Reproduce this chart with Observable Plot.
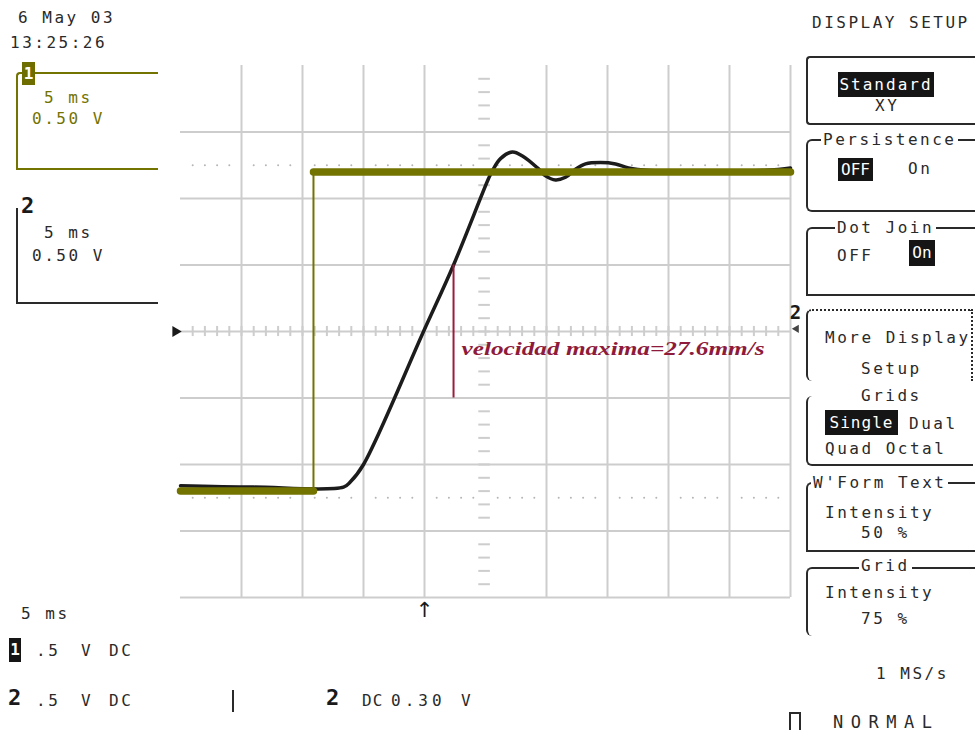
<!DOCTYPE html>
<html>
<head>
<meta charset="utf-8">
<script src="https://cdn.jsdelivr.net/npm/d3@7"></script>
<script src="https://cdn.jsdelivr.net/npm/@observablehq/plot@0.6"></script>
<style>
  body { margin: 0; background: #ffffff; }
  #scope { position: relative; width: 975px; height: 734px; overflow: hidden;
           font-family: "DejaVu Sans Mono", monospace; color: #2a2a2a; background: #fff; }
  #chart { position: absolute; left: 0; top: 0; }
  .t { position: absolute; font-size: 16px; letter-spacing: 2.5px; white-space: pre; line-height: 1; }
  .ol { color: #737300; }
  .b2 { position: absolute; font-size: 22px; font-weight: bold; line-height: 1; color: #1a1a1a; }
  .hl { position: absolute; background: #151515; color: #fff; font-size: 16px; letter-spacing: 2px;
        text-align: center; white-space: pre; }
  .box { position: absolute; box-sizing: border-box; border-color: #2a2a2a; border-style: solid; border-width: 0; }
  .ttl { background: #fff; padding: 0 2px; }
</style>
</head>
<body>
<div id="scope">
  <div id="chart"></div>

  <!-- left info -->
  <div class="t" style="left:18px;top:10px">6 May 03</div>
  <div class="t" style="left:10px;top:35px">13:25:26</div>

  <div class="box" style="left:16px;top:72px;width:142px;height:98px;border-top-width:2px;border-left-width:2px;border-bottom-width:2px;border-color:#737300;border-top-left-radius:4px;"></div>
  <div class="hl" style="left:22px;top:62px;width:13px;height:23px;line-height:23px;background:#6e6e00;font-weight:bold;letter-spacing:0">1</div>
  <div class="t ol" style="left:44px;top:90px">5 ms</div>
  <div class="t ol" style="left:32px;top:111px">0.50 V</div>

  <div class="box" style="left:16px;top:208px;width:142px;height:96px;border-left-width:2px;border-bottom-width:2px;"></div>
  <div class="b2" style="left:21px;top:195px">2</div>
  <div class="t" style="left:44px;top:225px">5 ms</div>
  <div class="t" style="left:32px;top:248px">0.50 V</div>

  <!-- bottom info -->
  <div class="t" style="left:21px;top:606px">5 ms</div>
  <div class="hl" style="left:9px;top:638px;width:12px;height:24px;line-height:24px;font-weight:bold;letter-spacing:0">1</div>
  <div class="t" style="left:36px;top:643px">.5</div>
  <div class="t" style="left:81px;top:643px">V</div>
  <div class="t" style="left:109px;top:643px">DC</div>
  <div class="b2" style="left:8px;top:687px">2</div>
  <div class="t" style="left:36px;top:693px">.5</div>
  <div class="t" style="left:81px;top:693px">V</div>
  <div class="t" style="left:109px;top:693px">DC</div>
  <div class="box" style="left:232px;top:690px;width:2px;height:22px;background:#2a2a2a"></div>
  <div class="b2" style="left:326px;top:687px">2</div>
  <div class="t" style="left:362px;top:693px;letter-spacing:1px">DC</div>
  <div class="t" style="left:391px;top:693px;letter-spacing:4px">0.30</div>
  <div class="t" style="left:461px;top:693px">V</div>

  <!-- right menu -->
  <div class="t" style="left:812px;top:15px">DISPLAY SETUP</div>

  <div class="box" style="left:806px;top:56px;width:175px;height:69px;border-top-width:2px;border-left-width:2px;border-bottom-width:2px;border-top-left-radius:4px;border-bottom-left-radius:4px;"></div>
  <div class="hl" style="left:838px;top:72px;width:96px;height:25px;line-height:25px">Standard</div>
  <div class="t" style="left:875px;top:98px">XY</div>

  <div class="box" style="left:806px;top:139px;width:175px;height:73px;border-top-width:2px;border-left-width:2px;border-bottom-width:2px;border-top-left-radius:6px;border-bottom-left-radius:6px;"></div>
  <div class="t ttl" style="left:821px;top:132px">Persistence</div>
  <div class="hl" style="left:838px;top:158px;width:35px;height:23px;line-height:23px;letter-spacing:0">OFF</div>
  <div class="t" style="left:908px;top:161px">On</div>

  <div class="box" style="left:806px;top:227px;width:175px;height:69px;border-top-width:2px;border-left-width:2px;border-bottom-width:2px;border-top-left-radius:6px;"></div>
  <div class="t ttl" style="left:835px;top:220px">Dot Join</div>
  <div class="t" style="left:837px;top:248px">OFF</div>
  <div class="hl" style="left:909px;top:240px;width:26px;height:26px;line-height:26px;letter-spacing:0">On</div>

  <div class="box" style="left:806px;top:309px;width:167px;height:72px;border-top:2px dotted #2a2a2a;border-left-width:2px;border-right:2px dotted #2a2a2a;border-bottom-left-radius:6px;border-top-left-radius:6px;"></div>
  <div class="t" style="left:825px;top:330px">More Display</div>
  <div class="t" style="left:861px;top:361px">Setup</div>

  <div class="box" style="left:806px;top:396px;width:167px;height:70px;border-left-width:2px;border-bottom-width:2px;border-top-left-radius:6px;border-bottom-left-radius:6px;"></div>
  <div class="t" style="left:861px;top:388px">Grids</div>
  <div class="hl" style="left:825px;top:410px;width:73px;height:25px;line-height:25px;letter-spacing:1px">Single</div>
  <div class="t" style="left:909px;top:416px">Dual</div>
  <div class="t" style="left:825px;top:441px">Quad Octal</div>

  <div class="box" style="left:806px;top:482px;width:175px;height:70px;border-top-width:2px;border-left-width:2px;border-bottom-width:2px;border-top-left-radius:6px;"></div>
  <div class="t ttl" style="left:811px;top:475px">W'Form Text</div>
  <div class="t" style="left:825px;top:505px">Intensity</div>
  <div class="t" style="left:861px;top:525px">50 %</div>

  <div class="box" style="left:806px;top:567px;width:175px;height:69px;border-top-width:2px;border-left-width:2px;border-top-left-radius:6px;border-bottom-left-radius:6px;"></div>
  <div class="t ttl" style="left:859px;top:558px">Grid</div>
  <div class="t" style="left:825px;top:585px">Intensity</div>
  <div class="t" style="left:861px;top:611px">75 %</div>

  <div class="t" style="left:876px;top:666px">1 MS/s</div>
  <div class="box" style="left:789px;top:712px;width:12px;height:18px;border-top-width:2px;border-left-width:2px;border-right-width:2px;"></div>
  <div class="t" style="left:833px;top:714px;font-size:17px;letter-spacing:7.5px">NORMAL</div>
</div>

<script>
// ---- data (time in ms from left of screen, voltage in V about the centre line) ----
const ch1Time  = [0, 10.9, 10.9, 50];
const ch1Volts = [-1.2, -1.2, 1.2, 1.2];

const ch2Time  = [0, 6, 13.36, 13.93, 15.0, 19.92, 22.38, 25.25, 25.57, 26.23, 27.21, 28.03,
                  29.26, 29.92, 30.74, 31.56, 32.38, 33.2, 34.43, 35.66, 36.72, 38.52, 42.62, 47.54, 50];
const ch2Volts = [-1.16, -1.17, -1.17, -1.13, -1.0, 0.0, 0.5, 1.15, 1.21, 1.30, 1.35, 1.32,
                  1.23, 1.17, 1.14, 1.16, 1.22, 1.26, 1.27, 1.26, 1.23, 1.21, 1.20, 1.21, 1.23];

const annotationTime = 22.38;
const annotationVolts = [-0.5, 0.5];
const annotationLabel = "velocidad maxima=27.6mm/s";
const triggerTime = 20;

const majorTimes = [5, 10, 15, 20, 30, 35, 40, 45];
const borderTime = 50;
const majorVolts = [-1.5, -1, -0.5, 0, 0.5, 1, 1.5];
const bottomVolt = -2;
const minorTimes = d3.range(1, 50);
const minorVolts = d3.range(-19, 20).map(k => k / 10);
const dottedVolts = [-1.25, 1.25];

const ch1 = ch1Time.map((t, i) => ({t, v: ch1Volts[i]}));
const ch2 = ch2Time.map((t, i) => ({t, v: ch2Volts[i]}));
const dottedPts = dottedVolts.flatMap(v => minorTimes.filter(t => t % 5 !== 0).map(t => ({t, v})));

const grid = "#cdcdcd";
const olive = "#737300";

const chart = Plot.plot({
  width: 975,
  height: 734,
  marginLeft: 180,
  marginRight: 185,
  marginTop: 65,
  marginBottom: 137,
  x: {domain: [0, 50], axis: null},
  y: {domain: [-2, 2], axis: null},
  style: {background: "transparent", overflow: "visible"},
  marks: [
    Plot.ruleX(majorTimes, {y1: -2, y2: 2, stroke: grid, strokeWidth: 2}),
    Plot.ruleX([borderTime], {y1: -2, y2: 2, stroke: grid, strokeWidth: 2}),
    Plot.ruleY(majorVolts, {x1: 0, x2: 50, stroke: grid, strokeWidth: 2}),
    Plot.ruleY([bottomVolt], {x1: 0, x2: 50, stroke: grid, strokeWidth: 2}),
    Plot.ruleX(minorTimes, {y1: -0.038, y2: 0.038, stroke: grid, strokeWidth: 2}),
    Plot.ruleY(minorVolts, {x1: 24.45, x2: 25.4, stroke: grid, strokeWidth: 2}),
    Plot.dot(dottedPts, {x: "t", y: "v", r: 1, fill: "#b5b5b5", stroke: null}),
    // channel 2 (black)
    Plot.line(ch2, {x: "t", y: "v", stroke: "#1c1c1c", strokeWidth: 3.5, curve: "catmull-rom"}),
    // channel 1 (olive)
    Plot.line(ch1, {x: "t", y: "v", stroke: olive, strokeWidth: 2}),
    Plot.line(ch1, {x: "t", y: "v", z: d => d.v > 0 ? "high" : "low", stroke: olive, strokeWidth: 7.5}),
    // annotation
    Plot.ruleX([annotationTime], {y1: annotationVolts[0], y2: annotationVolts[1], stroke: "#9b1c3c", strokeWidth: 2}),
    Plot.text([annotationLabel], {x: annotationTime, y: -0.13, dx: 8, text: d => d, textAnchor: "start",
      fill: "#8e1b3b", fontSize: 18.5, fontFamily: "Liberation Serif", fontStyle: "italic", fontWeight: "bold"}),
    // markers
    Plot.dot([0], {x: d => d, y: 0, dx: -5, symbol: "triangle", r: 4, rotate: 90, fill: "#1a1a1a", stroke: null}),
    Plot.text(["2"], {x: borderTime, y: 0.14, dx: 5, text: d => d, fontSize: 19, fontWeight: "bold",
      fontFamily: "DejaVu Sans Mono", fill: "#1a1a1a"}),
    Plot.dot([borderTime], {x: d => d, y: 0.02, dx: 6, symbol: "triangle", r: 3, rotate: -90, fill: "#444", stroke: null}),
    Plot.text(["↑"], {x: triggerTime, y: bottomVolt, dy: 13, text: d => d, fontSize: 21,
      fontFamily: "DejaVu Sans", fill: "#1a1a1a"})
  ]
});

d3.select(chart).selectAll("text")
  .filter(function() { return this.textContent === annotationLabel; })
  .attr("textLength", 303)
  .attr("lengthAdjust", "spacingAndGlyphs");

document.getElementById("chart").appendChild(chart);
</script>
</body>
</html>
